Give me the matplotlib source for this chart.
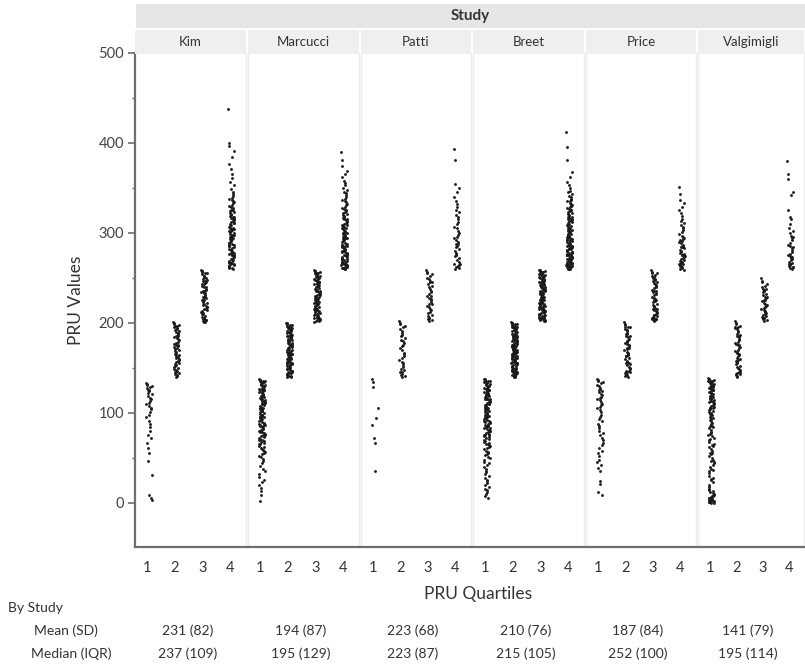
import matplotlib
matplotlib.use("Agg")
import matplotlib.pyplot as plt
from matplotlib.patches import Rectangle
from matplotlib.ticker import MultipleLocator

plt.rcParams["font.family"] = ["Lato", "DejaVu Sans"]

studies = ["Kim", "Marcucci", "Patti", "Breet", "Price", "Valgimigli"]
quartiles = [1, 2, 3, 4]
quartile_labels = ["1", "2", "3", "4"]
mean_sd = ["231 (82)", "194 (87)", "223 (68)", "210 (76)", "187 (84)", "141 (79)"]
median_iqr = ["237 (109)", "195 (129)", "223 (87)", "215 (105)", "252 (100)", "195 (114)"]

# PRU values per study and quartile
kim_q1 = [133, 132, 131, 130, 129, 128, 126, 125, 124, 122, 121, 119, 117, 115, 113, 111, 110, 108, 106, 104,
          101, 98, 95, 91, 88, 84, 80, 76, 72, 67, 61, 55, 47, 31, 9, 6, 3]
kim_q2 = [201, 200, 199, 198, 197, 196, 195, 194, 193, 192, 191, 190, 189, 188, 187, 185, 184, 183, 182, 181,
          179, 178, 177, 176, 175, 174, 172, 171, 170, 169, 168, 166, 165, 164, 163, 162, 160, 159, 158, 157,
          156, 154, 153, 152, 151, 150, 149, 148, 147, 146, 145, 144, 143, 142, 141, 140, 197, 186, 173, 161]
kim_q3 = [259, 258, 258, 256, 255, 254, 252, 252, 251, 249, 248, 247, 247, 245, 244, 243, 241, 240, 240, 238,
          237, 236, 234, 233, 233, 231, 230, 229, 228, 226, 225, 225, 223, 222, 221, 219, 218, 218, 216, 215,
          214, 213, 211, 210, 210, 208, 207, 206, 205, 204, 204, 203, 202, 202, 201, 201, 257, 250, 243, 236,
          229, 220, 212, 206, 203]
kim_q4 = [438, 400, 397, 391, 384, 377, 371, 366, 361, 357, 353, 349, 346, 343, 341, 339, 338, 337, 335, 334,
          333, 331, 330, 329, 328, 326, 325, 324, 323, 322, 321, 320, 319, 318, 317, 316, 315, 314, 313, 312,
          311, 310, 309, 308, 307, 306, 305, 304, 303, 302, 301, 300, 299, 298, 297, 296, 295, 294, 293, 292,
          291, 290, 289, 288, 287, 286, 285, 284, 283, 282, 281, 280, 279, 278, 277, 276, 275, 274, 273, 272,
          271, 270, 269, 268, 267, 266, 265, 264, 263, 262, 261, 260, 325, 318, 311, 304, 298, 293, 287, 281,
          276, 271, 267, 263, 261, 316, 302, 289, 278, 268]

marcucci_q1 = [138, 137, 137, 136, 135, 135, 134, 133, 133, 132, 131, 131, 130, 129, 128, 128, 127, 126, 126,
               125, 124, 123, 123, 122, 121, 120, 120, 119, 118, 117, 117, 116, 115, 114, 113, 113, 112, 111,
               110, 110, 109, 108, 107, 106, 106, 105, 104, 103, 102, 102, 101, 100, 99, 98, 98, 97, 96, 95, 94,
               93, 93, 92, 91, 90, 89, 88, 87, 87, 86, 85, 84, 83, 82, 81, 80, 79, 78, 77, 76, 75, 74, 73, 72,
               71, 70, 69, 68, 67, 66, 65, 63, 62, 61, 59, 58, 57, 55, 54, 52, 51, 49, 47, 44, 41, 38, 35, 32,
               29, 26, 23, 20, 17, 13, 9, 2, 134, 126, 119, 111, 104, 96, 88, 79, 70, 60]
marcucci_q2 = [200, 200, 199, 198, 198, 197, 196, 196, 195, 194, 194, 193, 192, 192, 191, 190, 189, 189, 188,
               187, 187, 186, 185, 185, 184, 183, 182, 182, 181, 180, 180, 179, 178, 178, 177, 176, 175, 175,
               174, 173, 173, 172, 171, 171, 170, 169, 168, 168, 167, 166, 166, 165, 164, 164, 163, 162, 161,
               161, 160, 159, 159, 158, 157, 157, 156, 155, 154, 154, 153, 152, 152, 151, 150, 150, 149, 148,
               147, 147, 146, 145, 145, 144, 143, 143, 142, 141, 141, 140, 140, 197, 191, 186, 181, 176, 170,
               165, 160, 155, 149, 144]
marcucci_q3 = [259, 258, 258, 257, 256, 256, 255, 254, 253, 253, 252, 251, 251, 250, 249, 248, 248, 247, 246,
               246, 245, 244, 243, 243, 242, 241, 241, 240, 239, 238, 238, 237, 236, 236, 235, 234, 233, 233,
               232, 231, 231, 230, 229, 228, 228, 227, 226, 226, 225, 224, 223, 223, 222, 221, 221, 220, 219,
               218, 218, 217, 216, 216, 215, 214, 213, 213, 212, 211, 211, 210, 209, 208, 208, 207, 206, 206,
               205, 204, 203, 203, 202, 202, 201, 255, 249, 242, 235, 229, 222, 215, 209, 204]
marcucci_q4 = [390, 381, 374, 369, 365, 362, 358, 355, 353, 350, 348, 346, 344, 342, 340, 338, 337, 335, 334,
               332, 331, 329, 328, 327, 325, 324, 323, 322, 321, 320, 319, 318, 317, 316, 315, 314, 313, 312,
               311, 310, 309, 308, 307, 307, 306, 305, 304, 303, 302, 301, 300, 300, 299, 298, 297, 296, 295,
               294, 293, 293, 292, 291, 290, 289, 288, 287, 287, 286, 285, 284, 283, 282, 281, 281, 280, 279,
               278, 277, 276, 276, 275, 274, 273, 272, 271, 271, 270, 269, 268, 267, 267, 266, 265, 264, 264,
               263, 262, 262, 261, 261, 260, 260, 318, 309, 301, 294, 286, 279, 273, 268, 264, 261, 296, 283, 270]

patti_q1 = [138, 134, 129, 105, 94, 87, 72, 67, 36]
patti_q2 = [202, 200, 199, 197, 195, 193, 191, 189, 187, 185, 183, 181, 180, 178, 176, 174, 172, 170, 167, 165,
            163, 161, 159, 157, 155, 153, 151, 149, 148, 146, 145, 143, 142, 141, 140]
patti_q3 = [259, 257, 256, 254, 252, 250, 249, 247, 245, 243, 241, 240, 238, 236, 234, 232, 230, 228, 227, 225,
            223, 221, 219, 218, 216, 214, 212, 211, 209, 208, 206, 205, 204, 203, 202, 230, 221, 245]
patti_q4 = [393, 381, 354, 350, 346, 340, 336, 332, 329, 326, 323, 320, 318, 315, 312, 310, 307, 305, 302, 300,
            298, 296, 294, 292, 290, 288, 286, 284, 282, 280, 278, 276, 274, 272, 270, 268, 266, 264, 263, 262,
            261, 260, 288, 275, 265]

breet_q1 = [138, 138, 137, 136, 136, 135, 134, 134, 133, 132, 132, 131, 130, 130, 129, 128, 128, 127, 126, 125,
            125, 124, 123, 123, 122, 121, 120, 120, 119, 118, 118, 117, 116, 115, 115, 114, 113, 112, 112, 111,
            110, 109, 109, 108, 107, 106, 106, 105, 104, 103, 103, 102, 101, 100, 99, 99, 98, 97, 96, 95, 95,
            94, 93, 92, 91, 91, 90, 89, 88, 87, 86, 86, 85, 84, 83, 82, 81, 80, 80, 79, 78, 77, 76, 75, 74, 73,
            72, 71, 70, 69, 68, 67, 66, 65, 64, 63, 62, 61, 60, 58, 57, 56, 54, 53, 51, 50, 48, 46, 44, 42, 40,
            38, 36, 34, 32, 30, 28, 26, 24, 22, 20, 18, 16, 14, 12, 10, 8, 6, 134, 127, 121, 116, 110, 104, 97,
            90, 83, 76]
breet_q2 = [201, 200, 200, 199, 199, 198, 197, 197, 196, 196, 195, 194, 194, 193, 193, 192, 191, 191, 190, 190,
            189, 188, 188, 187, 187, 186, 185, 185, 184, 184, 183, 182, 182, 181, 181, 180, 179, 179, 178, 178,
            177, 176, 176, 175, 175, 174, 173, 173, 172, 172, 171, 170, 170, 169, 169, 168, 167, 167, 166, 166,
            165, 164, 164, 163, 163, 162, 161, 161, 160, 160, 159, 158, 158, 157, 157, 156, 155, 155, 154, 154,
            153, 152, 152, 151, 151, 150, 149, 149, 148, 148, 147, 146, 146, 145, 145, 144, 143, 143, 142, 142,
            141, 140, 140, 198, 192, 186, 180, 174, 168, 162, 156, 150, 144, 141, 195, 183, 171, 159, 147]
breet_q3 = [259, 259, 258, 258, 257, 256, 256, 255, 255, 254, 253, 253, 252, 252, 251, 250, 250, 249, 249, 248,
            247, 247, 246, 246, 245, 244, 244, 243, 243, 242, 241, 241, 240, 240, 239, 238, 238, 237, 237, 236,
            235, 235, 234, 234, 233, 232, 232, 231, 231, 230, 229, 229, 228, 228, 227, 226, 226, 225, 225, 224,
            223, 223, 222, 222, 221, 220, 220, 219, 219, 218, 217, 217, 216, 216, 215, 214, 214, 213, 213, 212,
            211, 211, 210, 210, 209, 208, 208, 207, 207, 206, 205, 205, 204, 204, 203, 202, 202, 257, 251, 245,
            239, 233, 227, 221, 215, 209, 203, 254, 242, 230, 218, 206]
breet_q4 = [412, 395, 381, 368, 362, 357, 353, 350, 347, 345, 343, 341, 340, 338, 337, 336, 335, 333, 332, 331,
            330, 329, 328, 327, 326, 325, 324, 323, 322, 321, 320, 319, 318, 318, 317, 316, 315, 314, 313, 313,
            312, 311, 310, 309, 309, 308, 307, 306, 305, 305, 304, 303, 302, 302, 301, 300, 299, 299, 298, 297,
            296, 296, 295, 294, 293, 293, 292, 291, 291, 290, 289, 288, 288, 287, 286, 286, 285, 284, 284, 283,
            282, 282, 281, 280, 280, 279, 278, 278, 277, 276, 276, 275, 275, 274, 273, 273, 272, 272, 271, 270,
            270, 269, 269, 268, 267, 267, 266, 266, 265, 265, 264, 264, 263, 263, 262, 262, 261, 261, 260, 260,
            260, 330, 315, 303, 292, 283, 276, 270, 265, 262, 298, 287, 279, 272, 267, 263]

price_q1 = [138, 137, 135, 134, 133, 131, 130, 128, 127, 126, 124, 123, 121, 120, 118, 117, 115, 114, 112, 110,
            109, 107, 105, 103, 101, 98, 96, 93, 91, 88, 86, 83, 80, 78, 75, 72, 70, 67, 64, 61, 58, 55, 52, 48,
            45, 42, 39, 35, 24, 21, 12, 9]
price_q2 = [201, 199, 198, 196, 195, 193, 192, 191, 189, 188, 186, 185, 184, 182, 181, 179, 178, 177, 175, 174,
            172, 171, 170, 168, 167, 165, 164, 163, 161, 160, 158, 157, 156, 154, 153, 151, 150, 149, 147, 146,
            145, 144, 143, 142, 141, 140, 196, 188, 180, 172, 163, 155, 147, 142]
price_q3 = [259, 257, 256, 255, 253, 252, 251, 249, 248, 247, 245, 244, 243, 241, 240, 239, 237, 236, 235, 233,
            232, 231, 229, 228, 227, 225, 224, 223, 221, 220, 219, 218, 216, 215, 214, 213, 212, 211, 210, 209,
            208, 207, 206, 205, 205, 204, 204, 203, 203, 202, 250, 242, 234, 226, 217, 209, 206, 204]
price_q4 = [351, 343, 337, 333, 329, 326, 322, 319, 316, 313, 311, 309, 307, 305, 303, 301, 299, 297, 296, 294,
            293, 291, 290, 289, 287, 286, 285, 284, 283, 281, 280, 279, 278, 277, 276, 275, 274, 273, 272, 271,
            270, 269, 268, 267, 266, 265, 264, 263, 262, 261, 260, 259, 292, 284, 276, 268, 263]

valgimigli_q1 = [139, 138, 138, 137, 136, 136, 135, 134, 134, 133, 132, 131, 131, 130, 129, 128, 128, 127, 126,
                 125, 125, 124, 123, 122, 121, 121, 120, 119, 118, 117, 116, 116, 115, 114, 113, 112, 111, 110,
                 109, 108, 107, 106, 105, 104, 103, 102, 101, 100, 98, 97, 95, 94, 92, 91, 89, 88, 86, 84, 83,
                 81, 79, 77, 76, 74, 72, 70, 68, 66, 64, 62, 60, 58, 56, 54, 52, 50, 48, 46, 44, 42, 40, 37, 35,
                 33, 30, 28, 25, 23, 20, 18, 15, 13, 12, 11, 10, 9, 8, 7, 6, 5, 4, 4, 3, 3, 2, 2, 1, 1, 0, 0, 135,
                 129, 122, 118, 112, 106, 99, 93, 85, 78, 71, 63, 55, 47, 38, 27, 14, 8, 5, 2]
valgimigli_q2 = [202, 200, 199, 197, 196, 194, 193, 191, 190, 188, 187, 185, 184, 182, 181, 179, 178, 176, 175,
                 173, 172, 170, 169, 167, 166, 164, 163, 161, 160, 158, 157, 155, 154, 152, 151, 149, 148, 146,
                 145, 144, 143, 142, 141, 140, 195, 186, 177, 168, 159, 150, 143]
valgimigli_q3 = [250, 247, 245, 243, 241, 240, 238, 237, 235, 234, 232, 231, 229, 228, 226, 225, 224, 222, 221,
                 219, 218, 217, 215, 214, 213, 212, 210, 209, 208, 207, 206, 205, 204, 203, 202, 238, 229, 220,
                 211, 205]
valgimigli_q4 = [380, 366, 360, 345, 342, 325, 318, 315, 310, 305, 302, 300, 297, 294, 292, 289, 287, 285, 283,
                 281, 279, 277, 275, 274, 272, 271, 270, 268, 267, 266, 265, 264, 263, 262, 261, 260, 296, 284,
                 273, 266, 262]

study_values = [
    [kim_q1, kim_q2, kim_q3, kim_q4],
    [marcucci_q1, marcucci_q2, marcucci_q3, marcucci_q4],
    [patti_q1, patti_q2, patti_q3, patti_q4],
    [breet_q1, breet_q2, breet_q3, breet_q4],
    [price_q1, price_q2, price_q3, price_q4],
    [valgimigli_q1, valgimigli_q2, valgimigli_q3, valgimigli_q4],
]

W, H = 805, 665
fig = plt.figure(figsize=(W / 100, H / 100), dpi=100)


def fx(px):
    return px / W


def fy(py):
    return 1 - py / H


def spread(i):
    # scrambled sideways offset in [-0.5, 0.5) so neighbouring values don't line up
    return ((i * i * 0.4142135624 + i * 0.7548776662) % 1.0) - 0.5


edges = [135, 247, 360, 472, 585, 697, 805]
top_px, bottom_px = 53, 547
axis_grey = "#6e6e6e"

axes = []
for k, name in enumerate(studies):
    left = edges[k] + (1 if k > 0 else 0)
    right = edges[k + 1] - 1
    ax = fig.add_axes([fx(left), fy(bottom_px), fx(right - left), fy(top_px) - fy(bottom_px)])
    axes.append(ax)

    for q, vals in zip(quartiles, study_values[k]):
        xs = [q + 0.05 + spread(i) * 0.22 for i in range(len(vals))]
        ax.scatter(xs, vals, s=4.2, color="#1a1a1a", linewidths=0, zorder=3)

    ax.set_xlim(0.55, 4.58)
    ax.set_ylim(-49, 500)
    ax.set_xticks(quartiles)
    ax.set_xticklabels(quartile_labels, fontsize=10.5, color="#333333")
    ax.tick_params(axis="x", length=0, pad=10)

    ax.spines["top"].set_visible(False)
    ax.spines["bottom"].set_color(axis_grey)
    ax.spines["bottom"].set_linewidth(1.6)
    ax.spines["right"].set_color("#ececec")
    ax.spines["right"].set_linewidth(1.0)
    if k == 0:
        ax.spines["left"].set_color(axis_grey)
        ax.spines["left"].set_linewidth(1.6)
        ax.yaxis.set_major_locator(MultipleLocator(100))
        ax.yaxis.set_minor_locator(MultipleLocator(50))
        ax.tick_params(axis="y", which="major", length=5, width=1.2, color=axis_grey,
                       labelsize=10.5, labelcolor="#444444", pad=3)
        ax.tick_params(axis="y", which="minor", length=2.5, width=1.0, color=axis_grey)
        ax.set_ylabel("PRU Values", fontsize=12.5, color="#333333", labelpad=10)
    else:
        ax.spines["left"].set_color("#ececec")
        ax.spines["left"].set_linewidth(1.0)
        ax.set_yticks([])

    # study name strip above each panel
    fig.patches.append(Rectangle((fx(left), fy(54)), fx(right - left), fy(30) - fy(54),
                                 transform=fig.transFigure, facecolor="#efefef", edgecolor="none"))
    fig.text(fx((left + right) / 2), fy(42), name, ha="center", va="center",
             fontsize=9.5, color="#333333")

    # summary statistics under each panel
    fig.text(fx((left + right) / 2 - 3), fy(631), mean_sd[k], ha="center", va="center",
             fontsize=10, color="#333333")
    fig.text(fx((left + right) / 2 - 3), fy(654), median_iqr[k], ha="center", va="center",
             fontsize=10, color="#333333")

# overall "Study" header band
fig.patches.append(Rectangle((fx(136), fy(28)), fx(805 - 136), fy(4) - fy(28),
                             transform=fig.transFigure, facecolor="#e6e6e6", edgecolor="none"))
fig.text(fx(470), fy(16), "Study", ha="center", va="center", fontsize=11,
         fontweight="bold", color="#333333")

fig.text(fx(478), fy(594), "PRU Quartiles", ha="center", va="center", fontsize=12.5, color="#333333")
fig.text(fx(8), fy(608), "By Study", ha="left", va="center", fontsize=10, color="#333333")
fig.text(fx(34), fy(631), "Mean (SD)", ha="left", va="center", fontsize=10, color="#333333")
fig.text(fx(31), fy(654), "Median (IQR)", ha="left", va="center", fontsize=10, color="#333333")

fig.savefig("out.png", dpi=100)
